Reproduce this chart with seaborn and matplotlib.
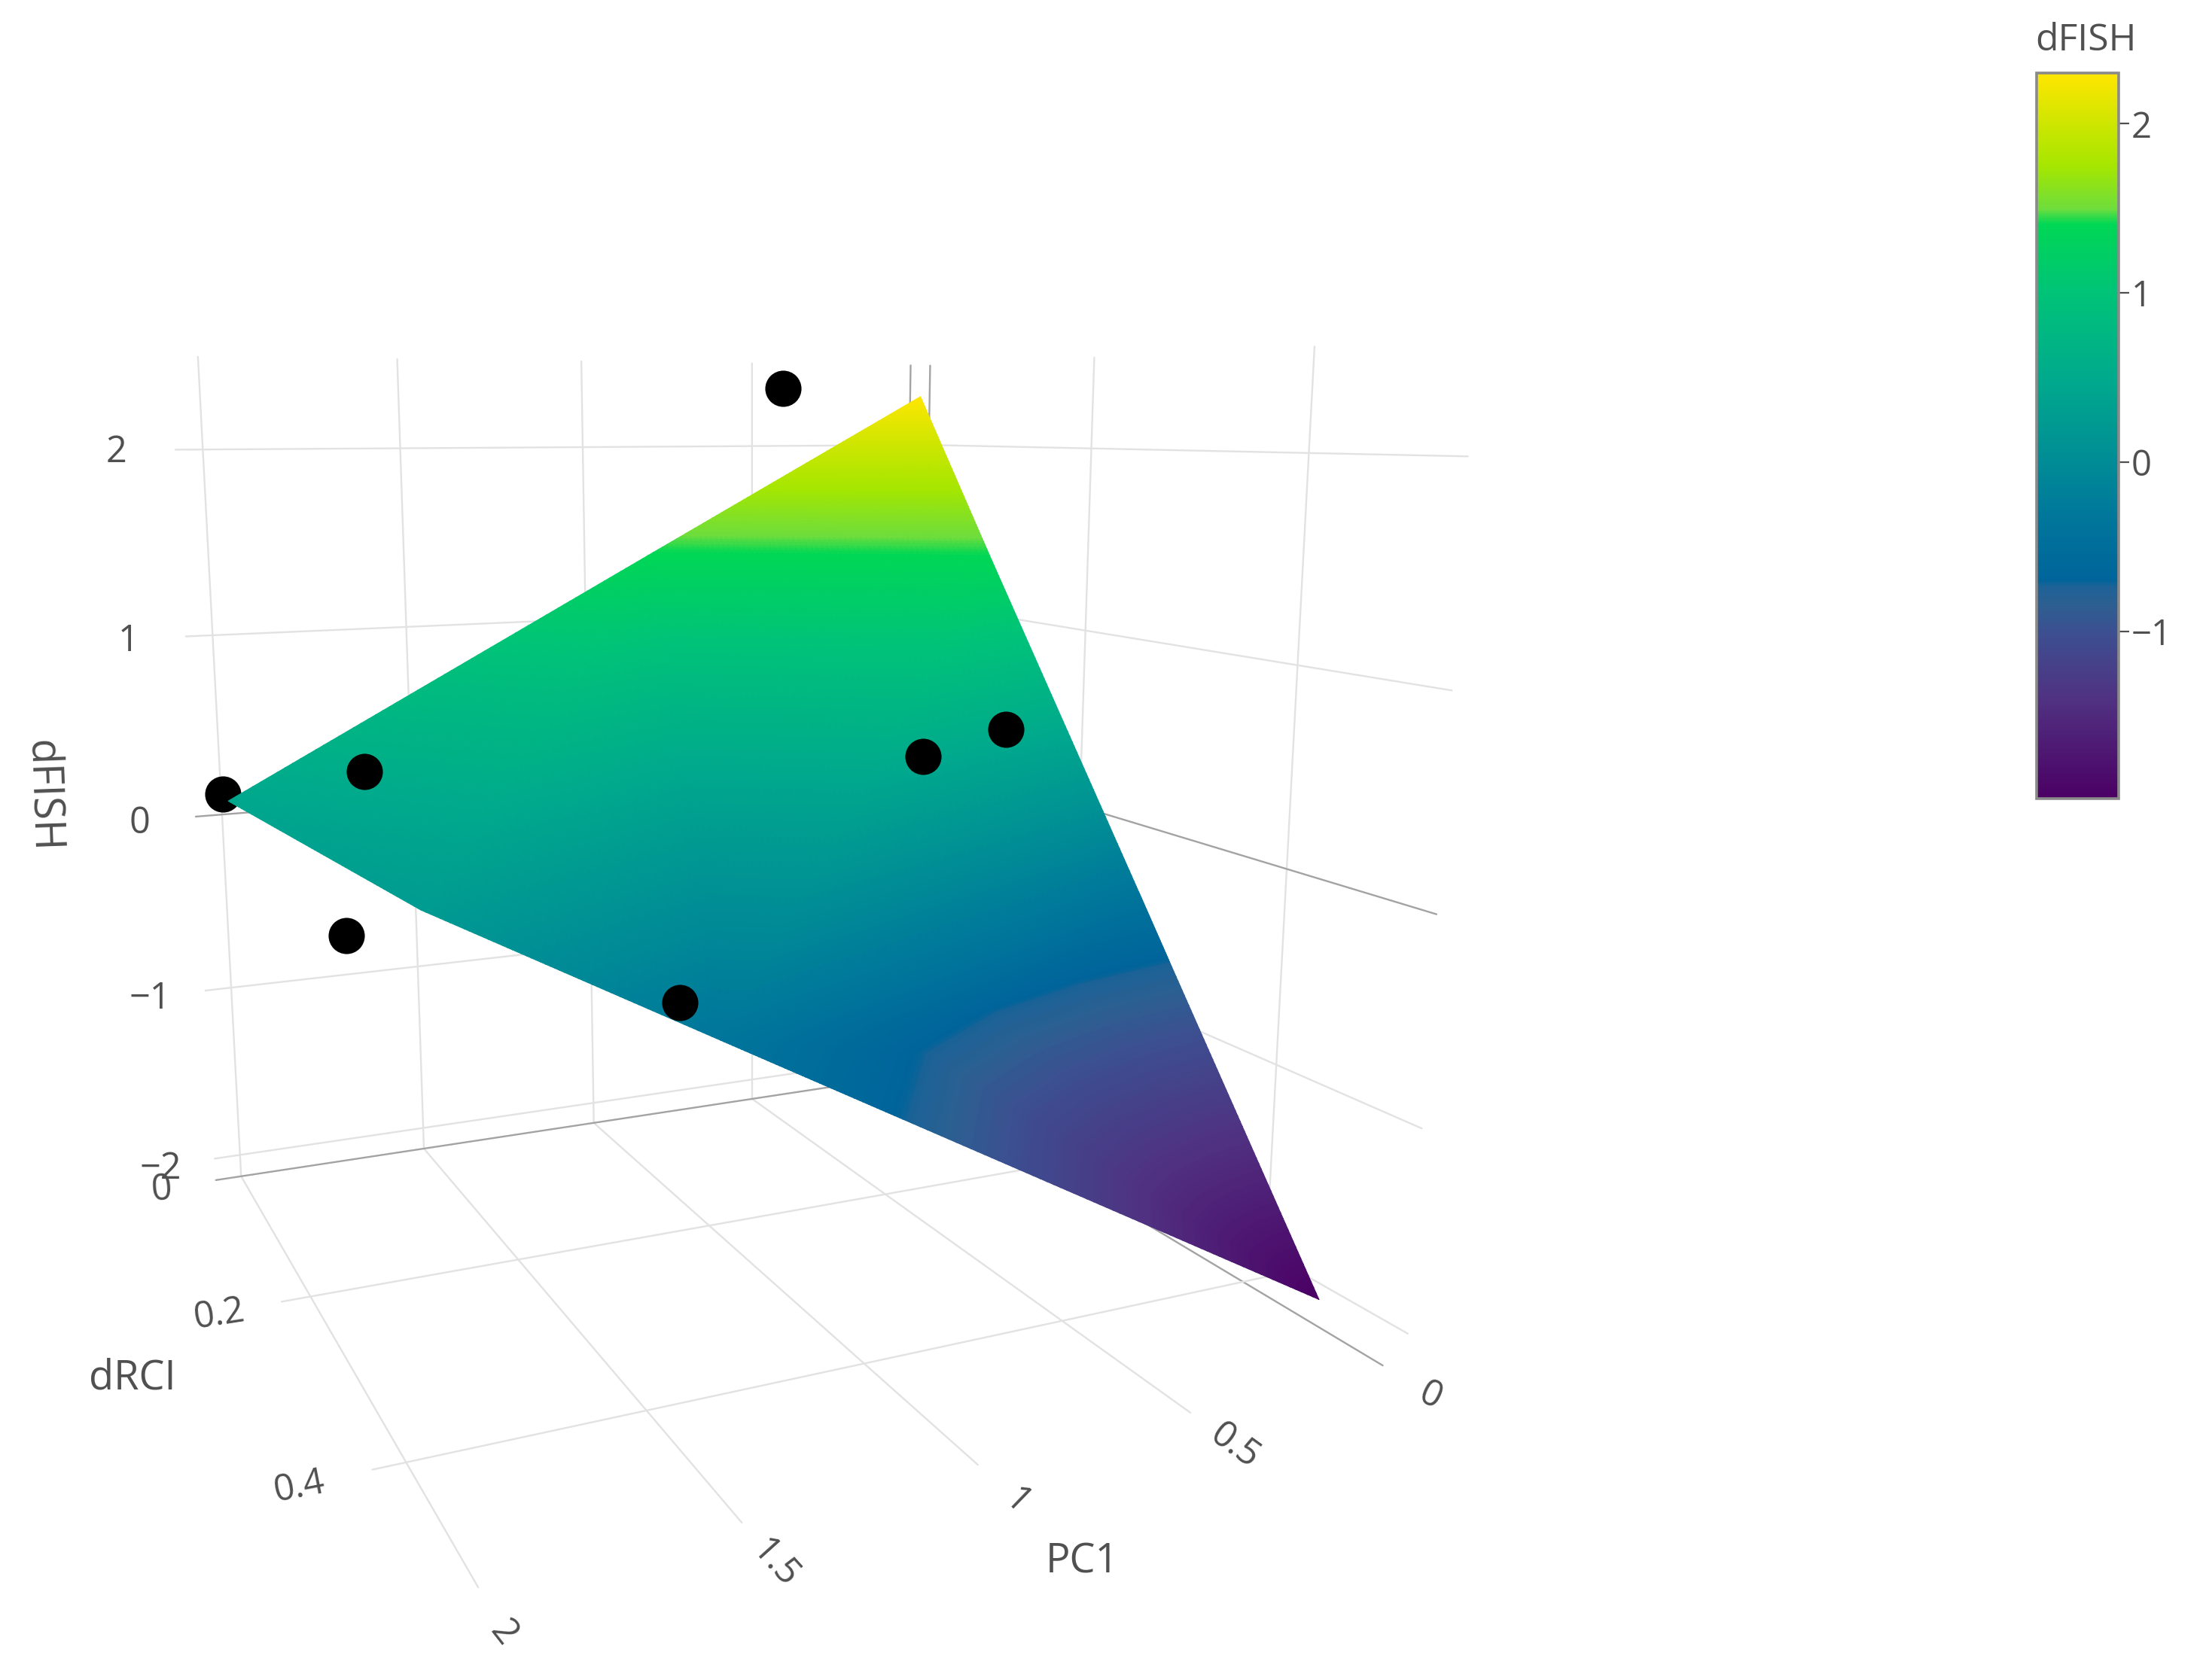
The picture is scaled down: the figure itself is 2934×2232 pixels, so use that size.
import numpy as np
import matplotlib
matplotlib.use("Agg")
import matplotlib.pyplot as plt
from matplotlib.cm import ScalarMappable
from matplotlib.colors import LinearSegmentedColormap, Normalize
from mpl_toolkits.mplot3d import proj3d
from mpl_toolkits.mplot3d.art3d import Poly3DCollection
import seaborn as sns

W, H = 2934, 2232

# black points
PC1 = [1.989, 1.765, 1.719, 1.409, 0.405, 0.744, 0.536]
DRCI = [-0.009, 0.137, 0.029, 0.394, 0.0, 0.342, 0.342]
DFISH = [0.10, 0.40, -0.70, -0.30, 2.34, 0.60, 0.70]

# surface mesh
SURF_PC1 = [-0.106, 0.881, 0.140, 2.147, 1.941, 1.407, -0.037,
            -0.088, 0.240, 0.542, 0.825, 1.071, 0.001]
SURF_DRCI = [-0.031, 0.049, 0.165, 0.227, 0.406, 0.441, 0.275,
             0.292, 0.310, 0.338, 0.384, 0.470, 0.463]
SURF_DFISH = [2.30, 1.41, 1.41, 0.45, 0.25, -0.35, -0.35,
              -0.72, -0.72, -0.72, -0.72, -0.72, -1.99]
SURF_TRI = [[0, 1, 2], [1, 3, 4], [1, 4, 5], [1, 5, 2], [2, 5, 6], [5, 11, 10], [5, 10, 9], [5, 9, 6],
            [6, 9, 8], [6, 8, 7], [12, 11, 10], [12, 10, 9], [12, 9, 8], [12, 8, 7]]

# axis ranges and ticks
PC1_RANGE = (-0.064, 2.0662)
DRCI_RANGE = (0.0, 0.5131)
DFISH_RANGE = (-2.1303, 2.4864)
PC1_TICKS = [0, 0.5, 1, 1.5, 2]
PC1_LABELS = ["0", "0.5", "1", "1.5", "2"]
PC1_ROT = [-25, -36, -44, -48, -52]
DRCI_TICKS = [0, 0.2, 0.4]
DRCI_LABELS = ["0", "0.2", "0.4"]
DRCI_ROT = [4, 9, 11]
DFISH_TICKS = [-2, -1, 0, 1, 2]
DFISH_LABELS = ["\u22122", "\u22121", "0", "1", "2"]

# colour scale
SCALE_Z = [-1.99, -1.4, -1.0, -0.85, -0.74, -0.70, -0.3, 0.0, 0.5, 1.0, 1.41, 1.50, 1.75, 2.0, 2.3]
SCALE_COL = ["#4b0064", "#503282", "#3c5091", "#2d5f91", "#1e6296", "#00649b", "#00789b", "#008c96",
             "#00aa8c", "#00c378", "#00d755", "#6edd3c", "#a5e600", "#cde600", "#ffe600"]

sns.set_theme(style="white")
plt.rcParams["font.family"] = ["Open Sans", "DejaVu Sans"]
TXT = "#505050"
GRID = "#e2e2e2"
ZERO = "#a3a3a3"

norm = Normalize(SCALE_Z[0], SCALE_Z[-1])
cmap = LinearSegmentedColormap.from_list(
    "dfish", [(norm(z), c) for z, c in zip(SCALE_Z, SCALE_COL)], N=512)

fig = plt.figure(figsize=(W / 200, H / 200), dpi=200, facecolor="white")
ax = fig.add_axes([-71.3 / W, 71.7 / H, 2072.3 / W, 2072.3 / H], projection="3d")
ax.set_axis_off()
ax.patch.set_alpha(0)
ax.computed_zorder = False
ax.view_init(11.333, 65.418, 0.034)
ax.set_proj_type("persp", focal_length=0.2393)
ax.set_box_aspect((0.9999, 0.9986, 1))
ax.set_xlim(*PC1_RANGE, view_margin=0)
ax.set_ylim(*DRCI_RANGE, view_margin=0)
ax.set_zlim(*DFISH_RANGE, view_margin=0)
M = ax.get_proj()

x0, x1 = PC1_RANGE
y0, y1 = DRCI_RANGE
z0, z1 = DFISH_RANGE


def gl(xs, ys, zs, tick):
    ax.plot(xs, ys, zs, color=ZERO if tick == 0 else GRID, lw=0.85, zorder=1)


# gridlines on the two walls and the floor
for t in PC1_TICKS:
    gl([t, t], [y0, y0], [z0, z1], t)
    gl([t, t], [y0, y1], [z0, z0], t)
for t in DRCI_TICKS:
    gl([x0, x0], [t, t], [z0, z1], t)
    gl([x0, x1], [t, t], [z0, z0], t)
for t in DFISH_TICKS:
    gl([x0, x1], [y0, y0], [t, t], t)
    gl([x0, x0], [y0, y1], [t, t], t)

# the first point sits behind the tip of the surface
ax.scatter(PC1[:1], DRCI[:1], DFISH[:1], c="black", s=300, linewidths=0, depthshade=False, zorder=2)

# split each surface triangle so the colour runs smoothly across it
verts = np.c_[SURF_PC1, SURF_DRCI, SURF_DFISH]
faces = verts[np.array(SURF_TRI)]
for _ in range(6):
    a, b, c = faces[:, 0], faces[:, 1], faces[:, 2]
    ab, bc, ca = (a + b) / 2, (b + c) / 2, (c + a) / 2
    faces = np.concatenate([np.stack(t, axis=1) for t in [(a, ab, ca), (ab, b, bc), (ca, bc, c), (ab, bc, ca)]])
face_cols = cmap(norm(faces[:, :, 2].mean(axis=1)))
surf = Poly3DCollection(faces, facecolors=face_cols, edgecolors=face_cols, linewidths=0.4, zorder=3)
ax.add_collection3d(surf, autolim=False)

ax.scatter(PC1[1:], DRCI[1:], DFISH[1:], c="black", s=300, linewidths=0, depthshade=False, zorder=4)


def tick_text(x, y, z, lab, rot=0):
    # Text3D ignores rotation, so place it in the projected 2D coordinates
    px, py, _ = proj3d.proj_transform(x, y, z, M)
    ax.text2D(px, py - 0.00027, lab, transform=ax.transData, rotation=rot, rotation_mode="anchor",
              ha="center", va="center", fontsize=17.5, color=TXT)


for t, lab, rot in zip(PC1_TICKS, PC1_LABELS, PC1_ROT):
    tick_text(t, y1 + 0.034, z0, lab, rot)
for t, lab, rot in zip(DRCI_TICKS, DRCI_LABELS, DRCI_ROT):
    tick_text(x1 + 0.14, t, z0, lab, rot)
for t, lab in zip(DFISH_TICKS, DFISH_LABELS):
    tick_text(x1 + 0.14, y0, t, lab)

# axis titles
fig.text(1437 / W, 1 - 2075 / H, "PC1", ha="center", va="center", fontsize=19.5, color=TXT)
fig.text(176 / W, 1 - 1831 / H, "dRCI", ha="center", va="center", fontsize=19.5, color=TXT)
fig.text(55 / W, 1 - 1058 / H, "dFISH", rotation=-88, ha="center", va="center", fontsize=20, color=TXT)

# colour bar
cax = fig.add_axes([2705 / W, 1 - 1061 / H, 109 / W, 964 / H])
cb = fig.colorbar(ScalarMappable(norm=norm, cmap=cmap), cax=cax, ticks=[-1, 0, 1, 2])
cb.ax.set_yticklabels(["\u22121", "0", "1", "2"])
cb.ax.tick_params(length=5, width=0.8, color=TXT, labelcolor=TXT, labelsize=17, pad=1, right=True)
cb.outline.set_edgecolor("#8a8a8a")
cb.outline.set_linewidth(1.3)
fig.text(2771 / W, 1 - 54 / H, "dFISH", ha="center", va="center", fontsize=18, color=TXT)

fig.savefig("out.png", dpi=200)
